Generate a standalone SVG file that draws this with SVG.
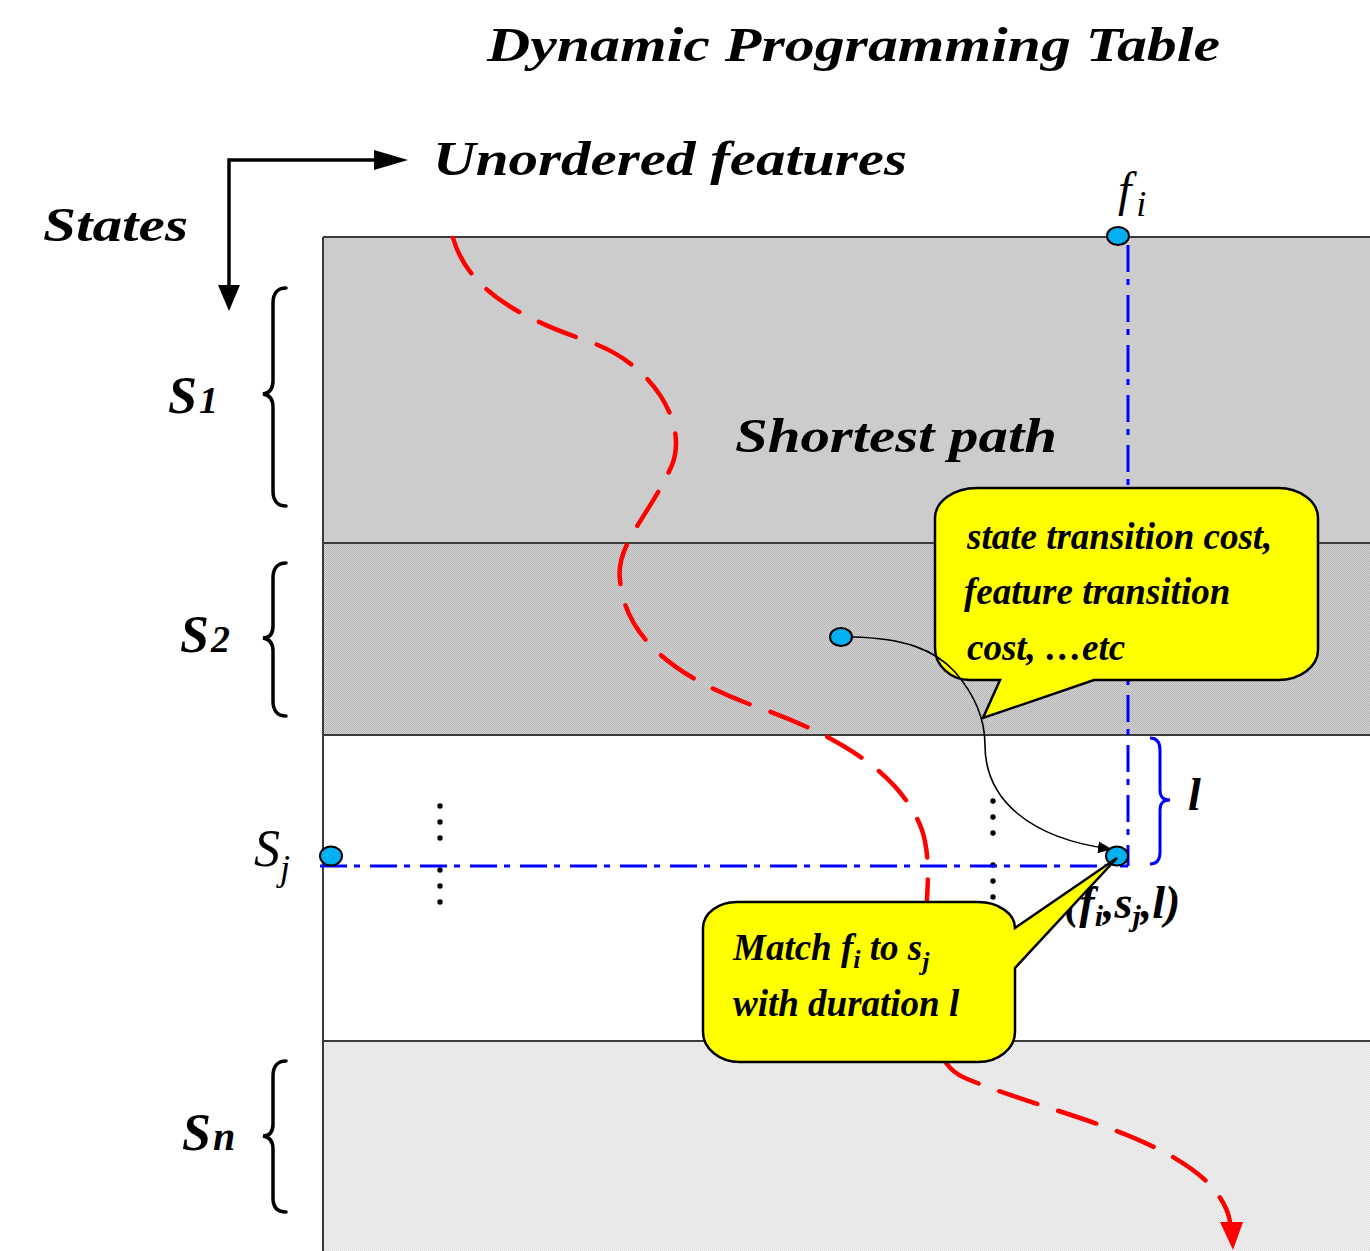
<svg xmlns="http://www.w3.org/2000/svg" width="1370" height="1251" viewBox="0 0 1370 1251">
  <style>
    .bi { font-family: "Liberation Serif", "Times New Roman", serif; font-weight: bold; font-style: italic; fill: #000; }
    .it { font-family: "Liberation Serif", "Times New Roman", serif; font-weight: normal; font-style: italic; fill: #000; }
    .rowline { stroke: #3a3a3a; stroke-width: 2; fill: none; }
    .brace { stroke: #000; stroke-width: 3.5; fill: none; stroke-linecap: round; }
    .dashdot { stroke: #0000ff; stroke-width: 3; fill: none; stroke-dasharray: 27 7 6 10; }
    .dot { fill: #000; }
    .node { fill: #00b0f0; stroke: #000; stroke-width: 2; }
    .callout { fill: #ffff00; stroke: #000; stroke-width: 2.5; }
    .path { stroke: #ff0000; stroke-width: 4.5; fill: none; stroke-dasharray: 40 22; stroke-linecap: round; }
  </style>
  <defs>
    <pattern id="stipple" width="2" height="2" patternUnits="userSpaceOnUse">
      <rect width="2" height="2" fill="#d4d4d4"/>
      <rect width="1" height="1" fill="#b4b4b4"/>
      <rect x="1" y="1" width="1" height="1" fill="#b4b4b4"/>
    </pattern>
    <pattern id="stippleLight" width="2" height="2" patternUnits="userSpaceOnUse">
      <rect width="2" height="2" fill="#f0f0f0"/>
      <rect width="1" height="1" fill="#e2e2e2"/>
      <rect x="1" y="1" width="1" height="1" fill="#e2e2e2"/>
    </pattern>
    <marker id="blackHead" markerWidth="14" markerHeight="12" refX="12" refY="6" orient="auto" markerUnits="userSpaceOnUse">
      <path d="M0,0 L14,6 L0,12 Z" fill="#000"/>
    </marker>
  </defs>

  <rect width="1370" height="1251" fill="#ffffff"/>

  <!-- title and axis captions -->
  <g id="title">
    <text class="bi" x="487" y="61" font-size="48" textLength="733" lengthAdjust="spacingAndGlyphs">Dynamic Programming Table</text>
  </g>
  <g id="axis-labels">
    <text class="bi" x="433" y="175" font-size="48" textLength="474" lengthAdjust="spacingAndGlyphs">Unordered features</text>
    <text class="bi" x="43" y="241" font-size="48" textLength="145" lengthAdjust="spacingAndGlyphs">States</text>
  </g>

  <!-- table bands, one per state -->
  <g id="table">
    <rect id="band-s1" x="323" y="237" width="1047" height="306" fill="#cccccc"/>
    <rect id="band-s2" x="323" y="543" width="1047" height="192" fill="url(#stipple)"/>
    <rect id="band-sj" x="323" y="735" width="1047" height="306" fill="#ffffff"/>
    <rect id="band-sn" x="323" y="1041" width="1047" height="210" fill="url(#stippleLight)"/>
    <line class="rowline" x1="323" y1="237" x2="1370" y2="237"/>
    <line class="rowline" x1="323" y1="543" x2="1370" y2="543"/>
    <line class="rowline" x1="323" y1="735" x2="1370" y2="735"/>
    <line class="rowline" x1="323" y1="1041" x2="1370" y2="1041"/>
    <line class="rowline" x1="323" y1="237" x2="323" y2="1251"/>
  </g>

  <!-- state labels with braces -->
  <g id="state-s1">
    <path class="brace" d="M286,288 C278,288 273,293 273,303 L273,381 C273,389 270,393 263,394 C270,395 273,399 273,407 L273,491 C273,501 278,506 286,506"/>
    <text class="bi" x="168" y="413" font-size="52">S<tspan font-size="38" dx="2">1</tspan></text>
  </g>
  <g id="state-s2">
    <path class="brace" d="M286,563 C278,563 273,568 273,578 L273,626 C273,634 270,638 263,638 C270,639 273,643 273,651 L273,701 C273,711 278,716 286,716"/>
    <text class="bi" x="180" y="652" font-size="52">S<tspan font-size="38" dx="2">2</tspan></text>
  </g>
  <g id="state-sn">
    <path class="brace" d="M286,1061 C278,1061 273,1066 273,1076 L273,1124 C273,1132 270,1136 263,1136 C270,1137 273,1141 273,1149 L273,1198 C273,1208 278,1212 286,1212"/>
    <text class="bi" x="182" y="1150" font-size="52">S<tspan font-size="40" dx="2">n</tspan></text>
  </g>
  <g id="state-sj">
    <text class="it" x="254" y="866" font-size="52">S<tspan font-size="36" dx="0" dy="14">j</tspan></text>
  </g>

  <text id="shortest-path-label" class="bi" x="735" y="452" font-size="48" textLength="322" lengthAdjust="spacingAndGlyphs">Shortest path</text>

  <!-- ellipsis columns -->
  <g id="ellipsis">
    <circle class="dot" cx="440" cy="806" r="2.7"/>
    <circle class="dot" cx="440" cy="822" r="2.7"/>
    <circle class="dot" cx="440" cy="838" r="2.7"/>
    <circle class="dot" cx="440" cy="870" r="2.7"/>
    <circle class="dot" cx="440" cy="886" r="2.7"/>
    <circle class="dot" cx="440" cy="902" r="2.7"/>
    <circle class="dot" cx="993" cy="801" r="2.7"/>
    <circle class="dot" cx="993" cy="817" r="2.7"/>
    <circle class="dot" cx="993" cy="833" r="2.7"/>
    <circle class="dot" cx="993" cy="865" r="2.7"/>
    <circle class="dot" cx="993" cy="881" r="2.7"/>
    <circle class="dot" cx="993" cy="897" r="2.7"/>
  </g>

  <g id="connectors">
    <!-- axis directions -->
    <path d="M229,288 L229,160 L382,160" fill="none" stroke="#000" stroke-width="3.5"/>
    <path d="M218,285 L240,285 L229,311 Z" fill="#000"/>
    <path d="M374,150 L408,160 L374,170 Z" fill="#000"/>

    <!-- shortest path through the table -->
    <path class="path" d="M453,238 C468,290 520,318 590,342 C655,365 688,425 672,465 C650,515 615,545 620,580 C625,640 680,680 760,708 C830,733 900,770 922,830 C935,870 922,920 925,960 C930,1030 935,1065 965,1078 C1040,1110 1150,1130 1205,1180 C1220,1195 1228,1208 1230,1222"/>
    <path d="M1220,1222 L1243,1222 L1233,1250 Z" fill="#ff0000"/>

    <!-- projections of f_i and s_j -->
    <line class="dashdot" x1="1128" y1="245" x2="1128" y2="866"/>
    <line class="dashdot" x1="320" y1="866" x2="1128" y2="866"/>

    <!-- duration brace -->
    <path d="M1150,738 C1157,738 1160,742 1160,750 L1160,790 C1160,797 1163,800 1170,800 C1163,800 1160,803 1160,810 L1160,852 C1160,860 1157,864 1150,864" fill="none" stroke="#0000ff" stroke-width="3"/>
  </g>

  <text id="duration-label" class="bi" x="1188" y="810" font-size="46">l</text>

  <!-- cost callout -->
  <g id="callout-cost">
    <path class="callout" d="M977,488 L1278,488 A40,30 0 0 1 1318,518 L1318,650 A40,30 0 0 1 1278,680 L1094,680 L983,718 L1000,680 L970,680 A35,32 0 0 1 935,648 L935,518 A42,30 0 0 1 977,488 Z"/>
    <text class="bi" x="967" y="549" font-size="37">state transition cost,</text>
    <text class="bi" x="964" y="604" font-size="37">feature transition</text>
    <text class="bi" x="967" y="660" font-size="37">cost, …etc</text>
  </g>

  <!-- transition from a previous cell into the matched cell -->
  <path id="transition" d="M852,637 C905,638 935,650 955,672 C975,695 985,720 985,745 C985,800 1030,838 1110,849" fill="none" stroke="#000" stroke-width="1.6" marker-end="url(#blackHead)"/>

  <!-- cells on the axes and the matched cell -->
  <g id="node-fi">
    <ellipse class="node" cx="1118" cy="236" rx="11" ry="9"/>
    <text class="it" x="1118" y="206" font-size="48">f<tspan font-size="36" dx="5" dy="10">i</tspan></text>
  </g>
  <g id="node-sj">
    <ellipse class="node" cx="331" cy="856" rx="11" ry="9.5"/>
  </g>
  <g id="node-prev">
    <ellipse class="node" cx="841" cy="637" rx="11" ry="9"/>
  </g>
  <g id="node-match">
    <ellipse class="node" cx="1117" cy="856" rx="11" ry="9.5"/>
    <text class="bi" x="1064" y="918" font-size="46">(f<tspan font-size="30" dy="8">i</tspan><tspan dy="-8">,s</tspan><tspan font-size="30" dy="8">j</tspan><tspan dy="-8">,l)</tspan></text>
  </g>

  <!-- match callout -->
  <g id="callout-match">
    <path class="callout" d="M737,902 L978,902 A37,26 0 0 1 1015,928 L1117,858 L1015,968 L1015,1032 A37,30 0 0 1 978,1062 L740,1062 A37,30 0 0 1 703,1032 L703,928 A34,26 0 0 1 737,902 Z"/>
    <text class="bi" x="733" y="960" font-size="37">Match f<tspan font-size="26" dy="8">i</tspan><tspan dy="-8"> to s</tspan><tspan font-size="26" dy="10">j</tspan></text>
    <text class="bi" x="733" y="1016" font-size="37">with duration l</text>
  </g>
</svg>
